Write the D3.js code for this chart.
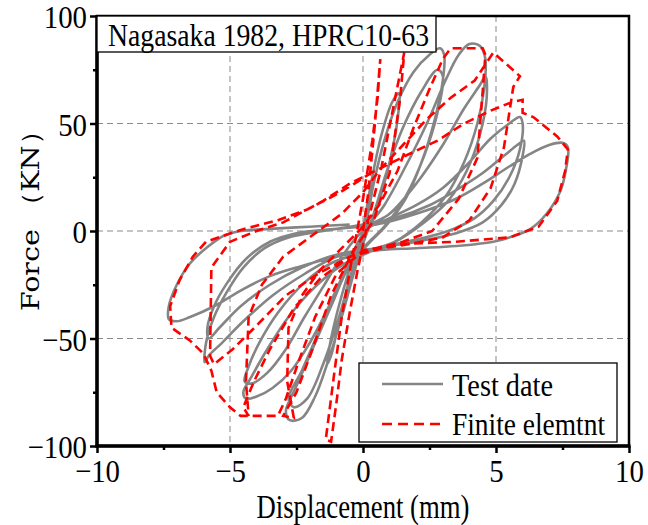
<!DOCTYPE html>
<html>
<head>
<meta charset="utf-8">
<script src="https://cdn.jsdelivr.net/npm/d3@7"></script>
<style>
  body { margin: 0; background: #fff; }
  text { font-family: "Liberation Serif", "Times New Roman", serif; }
</style>
</head>
<body>
<svg id="chart" width="648" height="525"></svg>
<script>
// displacement (mm), force (kN)
const testCurve = [
  [0,0],
  [0.3,22],[0.7,45],[1.1,60],[1.35,64],[1.3,52],[1.0,32],[0.5,10],[0,-4],[-0.5,-22],[-0.9,-42],[-1.2,-58],[-1.35,-62],[-1.2,-50],[-0.8,-30],[-0.3,-10],[0.1,3],
  [0.4,22],[0.8,42],[1.3,60],[1.9,74],[2.5,82],[2.9,85],[3.05,82],[3.0,70],[2.7,52],[2.2,32],[1.6,15],[0.9,3],[0.2,-6],[-0.5,-16],[-1.2,-35],[-1.9,-55],[-2.5,-72],[-2.9,-84],[-2.75,-88],[-2.3,-87],[-1.8,-77],[-1.3,-60],[-0.8,-40],[-0.4,-22],[0,-6],[0.4,8],
  [0.9,28],[1.5,48],[2.2,65],[2.8,75],[3.0,72],[2.8,55],[2.3,35],[1.6,16],[0.8,2],[0,-8],[-0.8,-22],[-1.6,-45],[-2.3,-65],[-2.8,-78],[-2.6,-82],[-2.1,-78],[-1.5,-62],[-0.9,-40],[-0.4,-18],[0.1,0],
  [0.8,12],[1.6,30],[2.4,50],[3.1,70],[3.6,82],[4.0,87],[4.4,86],[4.6,80],[4.55,66],[4.3,50],[3.8,32],[3.1,16],[2.2,4],[1.2,-5],[0.2,-10],[-0.8,-16],[-1.8,-26],[-2.8,-40],[-3.6,-55],[-4.2,-68],[-4.5,-75],[-4.4,-78],[-4.0,-77],[-3.4,-73],[-2.7,-65],[-2.0,-52],[-1.4,-38],[-0.8,-22],[-0.3,-8],[0.2,2],
  [1.0,8],[2.0,22],[3.0,40],[3.8,57],[4.4,68],[4.6,72],[4.65,62],[4.4,45],[3.9,28],[3.2,14],[2.3,4],[1.2,-5],[0,-10],[-1.2,-15],[-2.2,-24],[-3.2,-38],[-3.9,-52],[-4.3,-63],[-4.45,-70],[-4.2,-71],[-3.6,-66],[-2.9,-55],[-2.2,-40],[-1.5,-26],[-0.8,-12],[0,0],
  [1.0,6],[2.0,12],[3.0,20],[4.0,32],[4.8,43],[5.5,50],[5.9,53],[6.0,50],[5.9,38],[5.5,25],[4.9,14],[4.2,6],[3.2,0],[2.0,-4],[0.5,-8],[-1.0,-12],[-2.2,-20],[-3.4,-30],[-4.5,-42],[-5.3,-52],[-5.8,-58],[-5.95,-61],[-5.9,-52],[-5.6,-40],[-5.1,-28],[-4.5,-17],[-3.7,-8],[-2.8,-3],[-1.5,0],[0,3],
  [1.2,6],[2.5,12],[3.5,19],[4.5,27],[5.3,35],[5.8,40],[6.05,42],[6.0,35],[5.7,22],[5.2,12],[4.5,4],[3.5,-1],[2.0,-5],[0.5,-8],[-1.0,-11],[-2.3,-17],[-3.5,-25],[-4.6,-35],[-5.4,-45],[-5.8,-50],[-5.85,-45],[-5.6,-35],[-5.1,-24],[-4.4,-13],[-3.5,-5],[-2.5,-1],[-1,1],[0.5,3],
  [2.0,8],[3.5,15],[4.5,22],[5.5,30],[6.3,36],[7.0,40],[7.5,41],[7.7,39],[7.65,30],[7.4,18],[6.9,8],[6.3,1],[5.5,-3],[4.9,-5],[3.5,-7],[2.0,-8],[0.5,-9],[-1.0,-12],[-2.5,-17],[-3.5,-21],[-4.5,-27],[-5.6,-35],[-6.5,-40],[-7.0,-42],[-7.3,-41],[-7.3,-35],[-7.0,-25],[-6.5,-15],[-5.8,-7],[-5.2,-2],[-4.6,0],[-3.5,1],[-2,2],[-0.5,3]
];

const feCurve = [
  [0,0],[0.2,18],[0.45,50],[0.65,80],[0.55,62],[0.35,42],[0,15],[-0.4,-12],[-0.8,-40],[-1.1,-68],[-1.4,-97],[-1.2,-98],[-1.0,-80],[-0.8,-60],[-0.5,-38],[-0.2,-18],[0.2,5],[0.7,30],
  [1.1,55],[1.55,83],[1.4,62],[1.0,27],[0.4,5],[-0.4,-10],[-1.2,-30],[-1.9,-55],[-2.5,-75],[-3.0,-86],[-2.6,-87],[-2.85,-70],[-2.8,-45],[-2.3,-30],[-1.6,-18],[-0.8,-8],[0,2],[0.6,12],[1.3,28],
  [1.9,48],[2.5,66],[3.0,80],[3.3,85],[4.5,85],[4.6,82],[4.5,65],[4.3,34],[3.6,15],[2.6,0],[1.5,-5],[0.5,-8],[-0.5,-12],[-1.6,-22],[-2.6,-36],[-3.5,-55],[-4.1,-70],[-4.5,-82],[-4.3,-86],[-4.4,-70],[-4.3,-40],[-3.8,-25],[-3.0,-12],[-1.9,-2],[-0.8,8],[0,18],[0.6,28],
  [1.5,40],[2.4,52],[3.3,62],[4.2,70],[4.9,83],[5.9,72],[5.65,67],[5.3,39],[4.8,20],[4.0,5],[3.0,-3],[1.8,-6],[0.7,-8],[-0.5,-12],[-1.7,-20],[-2.9,-30],[-4.0,-44],[-4.9,-55],[-5.6,-62],[-5.75,-58],[-5.7,-17],[-5.0,-5],[-4.0,0],[-3.0,4],[-1.5,14],[-0.5,22],[0.3,27],
  [1.6,35],[2.8,42],[3.8,50],[4.8,56],[5.6,60],[6.0,61],[6.0,55],[6.4,53],[7.3,44],[7.7,38],[7.6,28],[7.3,14],[6.6,2],[5.5,-3],[3.5,-5],[1.5,-6],[0,-9],[-1.0,-20],[-1.8,-40],[-2.4,-60],[-2.9,-78],[-3.2,-86],[-4.6,-86],[-5.0,-82],[-5.5,-75],[-5.7,-65],[-6.0,-57],[-6.5,-51],[-7.2,-45],[-7.25,-35],[-6.9,-23],[-6.4,-12],[-5.9,-5],[-4.6,0.5],[-3.2,5],[-2.1,10],[-1.0,17],[-0.2,23],[0.3,27]
];

const xMajor = [-10, -5, 0, 5, 10];
const xMinor = [-7.5, -2.5, 2.5, 7.5];
const yMajor = [-100, -50, 0, 50, 100];
const yMinor = [-75, -25, 25, 75];
const gridX = [-5, 0, 5];
const gridY = [-50, 0, 50];
const legendLabels = ["Test date", "Finite elemtnt"];
const titleText = "Nagasaka 1982, HPRC10-63";

const margin = {left: 97, right: 19, top: 16, bottom: 79};
const W = 648, H = 525;
const sx = 0.9; // the original's lettering is narrow and tall
const svg = d3.select("#chart");

const x = d3.scaleLinear().domain([-10, 10]).range([margin.left, W - margin.right]);
const y = d3.scaleLinear().domain([-100, 100]).range([H - margin.bottom, margin.top]);

// grid
svg.append("g").selectAll("line").data(gridX).join("line")
  .attr("x1", d => x(d)).attr("x2", d => x(d))
  .attr("y1", y(100)).attr("y2", y(-100))
  .attr("stroke", "#8a8a8a").attr("stroke-width", 1).attr("stroke-dasharray", "6,4");
svg.append("g").selectAll("line").data(gridY).join("line")
  .attr("x1", x(-10)).attr("x2", x(10))
  .attr("y1", d => y(d)).attr("y2", d => y(d))
  .attr("stroke", "#8a8a8a").attr("stroke-width", 1).attr("stroke-dasharray", "6,4");

svg.append("clipPath").attr("id", "plot")
  .append("rect").attr("x", x(-10)).attr("y", y(100))
  .attr("width", x(10) - x(-10)).attr("height", y(-100) - y(100));

const plot = svg.append("g").attr("clip-path", "url(#plot)");

plot.append("path")
  .datum(testCurve)
  .attr("fill", "none")
  .attr("stroke", "#858585")
  .attr("stroke-width", 2.6)
  .attr("stroke-linejoin", "round")
  .attr("d", d3.line().curve(d3.curveCatmullRom.alpha(0.5)).x(d => x(d[0])).y(d => y(d[1])));

plot.append("path")
  .datum(feCurve)
  .attr("fill", "none")
  .attr("stroke", "#ff0000")
  .attr("stroke-width", 2.6)
  .attr("stroke-dasharray", "9,5")
  .attr("d", d3.line().x(d => x(d[0])).y(d => y(d[1])));

// frame
svg.append("rect")
  .attr("x", x(-10)).attr("y", y(100))
  .attr("width", x(10) - x(-10)).attr("height", y(-100) - y(100))
  .attr("fill", "none").attr("stroke", "#000").attr("stroke-width", 2.5);

// axes
const fmt = d => d < 0 ? "\u2212" + Math.abs(d) : String(d);

const gx = svg.append("g").attr("transform", `translate(0,${y(-100)})`);
gx.call(d3.axisBottom(x).tickValues(xMajor).tickSize(7).tickFormat(fmt));
gx.append("g").call(d3.axisBottom(x).tickValues(xMinor).tickSize(4).tickFormat(""));
gx.selectAll(".domain").remove();
gx.selectAll("line").attr("stroke", "#000").attr("stroke-width", 2.5);
gx.selectAll("text").attr("y", 13).attr("fill", "#000")
  .attr("transform", `scale(${sx},1)`)
  .style("font-family", "Liberation Serif").style("font-size", "32px");

const gy = svg.append("g").attr("transform", `translate(${x(-10)},0)`);
gy.call(d3.axisLeft(y).tickValues(yMajor).tickSize(7).tickFormat(fmt));
gy.append("g").call(d3.axisLeft(y).tickValues(yMinor).tickSize(4).tickFormat(""));
gy.selectAll(".domain").remove();
gy.selectAll("line").attr("stroke", "#000").attr("stroke-width", 2.5);
gy.selectAll("text").attr("x", -10 / sx).attr("dy", "0.36em").attr("fill", "#000")
  .attr("transform", `scale(${sx},1)`)
  .style("font-family", "Liberation Serif").style("font-size", "32px");

svg.append("line").attr("x1", x(-10) - 1.5).attr("x2", x(10) + 1.5)
  .attr("y1", y(-100)).attr("y2", y(-100)).attr("stroke", "#000").attr("stroke-width", 3.5);
svg.append("line").attr("x1", x(-10)).attr("x2", x(-10))
  .attr("y1", y(100) - 1).attr("y2", y(-100) + 1.5).attr("stroke", "#000").attr("stroke-width", 3.5);

// axis titles
svg.append("text")
  .attr("x", x(0)).attr("y", 518)
  .attr("text-anchor", "middle")
  .attr("textLength", 213).attr("lengthAdjust", "spacingAndGlyphs")
  .style("font-size", "33px")
  .text("Displacement (mm)");

svg.append("text")
  .attr("transform", "translate(39,214) rotate(-90)")
  .attr("text-anchor", "middle")
  .attr("textLength", 194).attr("lengthAdjust", "spacingAndGlyphs")
  .style("font-family", "DejaVu Serif")
  .style("font-size", "25px")
  .text("Force \uFF08KN\uFF09");

// title box
svg.append("rect")
  .attr("x", x(-10)).attr("y", y(100))
  .attr("width", 339).attr("height", 36)
  .attr("fill", "#fff").attr("stroke", "#000").attr("stroke-width", 1.3);
svg.append("text")
  .attr("x", 108).attr("y", 46)
  .attr("textLength", 321).attr("lengthAdjust", "spacingAndGlyphs")
  .style("font-size", "32px")
  .text(titleText);

// legend
const lg = svg.append("g").attr("transform", "translate(359,363)");
lg.append("rect").attr("width", 258).attr("height", 79)
  .attr("fill", "#fff").attr("stroke", "#000").attr("stroke-width", 1.3);
lg.append("line").attr("x1", 23).attr("x2", 84).attr("y1", 21).attr("y2", 21)
  .attr("stroke", "#858585").attr("stroke-width", 2.6);
lg.append("line").attr("x1", 23).attr("x2", 84).attr("y1", 61).attr("y2", 61)
  .attr("stroke", "#ff0000").attr("stroke-width", 2.6).attr("stroke-dasharray", "10,6");
lg.selectAll("text.lab").data(legendLabels).join("text")
  .attr("class", "lab")
  .attr("x", 93).attr("y", (d, i) => 33 + i * 39)
  .attr("textLength", (d, i) => i ? 153 : 101).attr("lengthAdjust", "spacingAndGlyphs")
  .style("font-size", "31px")
  .text(d => d);
</script>
</body>
</html>
